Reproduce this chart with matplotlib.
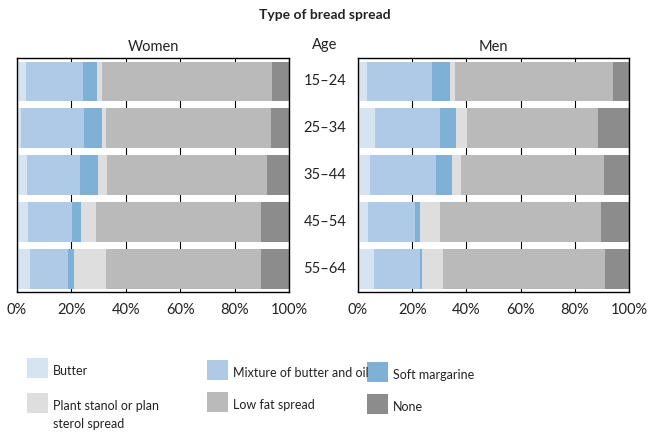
"""
Type of bread spread by age group, women and men.
"""
import matplotlib
matplotlib.use("Agg")
import matplotlib.pyplot as plt
import matplotlib.transforms as mtransforms
from matplotlib.patches import Rectangle

plt.rcParams["font.family"] = ["Lato", "DejaVu Sans"]

ages = ["15–24", "25–34", "35–44", "45–54", "55–64"]
categories = ["Butter", "Mixture of butter and oil", "Soft margarine",
              "Plant stanol or plan\nsterol spread", "Low fat spread", "None"]
colors = ["#d6e4f2", "#aecae6", "#7fb0d6", "#dedede", "#bababa", "#8c8c8c"]

# percent shares, one list per category, rows follow ages
women_butter = [3.2, 1.3, 3.6, 3.9, 4.7]
women_mixture = [21.0, 23.5, 19.5, 16.2, 14.0]
women_soft = [5.1, 6.3, 6.6, 3.3, 2.2]
women_stanol = [1.8, 1.5, 3.3, 5.5, 11.8]
women_lowfat = [62.5, 60.7, 58.8, 60.7, 57.0]
women_none = [6.4, 6.7, 8.2, 10.4, 10.3]

men_butter = [3.2, 6.2, 4.3, 3.6, 5.8]
men_mixture = [24.0, 24.0, 24.4, 17.4, 17.0]
men_soft = [6.7, 5.9, 5.9, 1.8, 0.7]
men_stanol = [1.8, 4.1, 3.3, 7.4, 7.8]
men_lowfat = [58.4, 48.5, 52.9, 59.6, 59.9]
men_none = [5.9, 11.3, 9.2, 10.2, 8.8]

women = [women_butter, women_mixture, women_soft, women_stanol, women_lowfat, women_none]
men = [men_butter, men_mixture, men_soft, men_stanol, men_lowfat, men_none]

fig = plt.figure(figsize=(6.5, 4.33), dpi=100)
ax_w = fig.add_axes([0.0262, 0.3256, 0.4185, 0.5404])
ax_m = fig.add_axes([0.5508, 0.3256, 0.4169, 0.5404])

ticks = [0, 20, 40, 60, 80, 100]
for ax, data, name in [(ax_w, women, "Women"), (ax_m, men, "Men")]:
    left = [0.0] * len(ages)
    for vals, col in zip(data, colors):
        ax.barh(range(len(ages)), vals, left=left, height=0.85, color=col, zorder=2)
        left = [l + v for l, v in zip(left, vals)]
    ax.set_xlim(0, 100)
    ax.set_ylim(4.5, -0.5)
    ax.set_xticks(ticks)
    ax.set_xticklabels([f"{t}%" for t in ticks], fontsize=10.5, color="#222222")
    ax.tick_params(axis="x", length=0, pad=8)
    ax.set_yticks([])
    ax.grid(axis="x", color="black", linewidth=0.8, zorder=0)
    ax.set_axisbelow(True)
    for sp in ax.spines.values():
        sp.set_linewidth(1.0)
    ax.set_title(name, fontsize=10.5, pad=5, color="#222222")

fig.text(0.5, 0.965, "Type of bread spread", ha="center", va="center",
         fontsize=10, fontweight="bold", color="#222222")
fig.text(0.5, 0.896, "Age", ha="center", va="center", fontsize=10.5, color="#222222")
trans = mtransforms.blended_transform_factory(fig.transFigure, ax_w.transData)
for i, a in enumerate(ages):
    fig.text(0.5, i, a, transform=trans, ha="center", va="center",
             fontsize=10.5, color="#222222")

# legend, three columns by two rows
legend_pos = [(27, 358), (27, 393), (207, 360), (207, 392), (367, 362), (367, 394)]
legend_order = [0, 3, 1, 4, 2, 5]
for (px, py), idx in zip(legend_pos, legend_order):
    x0 = px / 650
    y0 = 1 - (py + 20) / 433
    fig.add_artist(Rectangle((x0, y0), 21 / 650, 20 / 433, transform=fig.transFigure,
                             facecolor=colors[idx], edgecolor="none"))
    fig.text(x0 + 26 / 650, 1 - (py + 7) / 433, categories[idx], ha="left", va="top",
             fontsize=9, color="#222222", linespacing=1.55)

fig.savefig("out.png", dpi=100)
